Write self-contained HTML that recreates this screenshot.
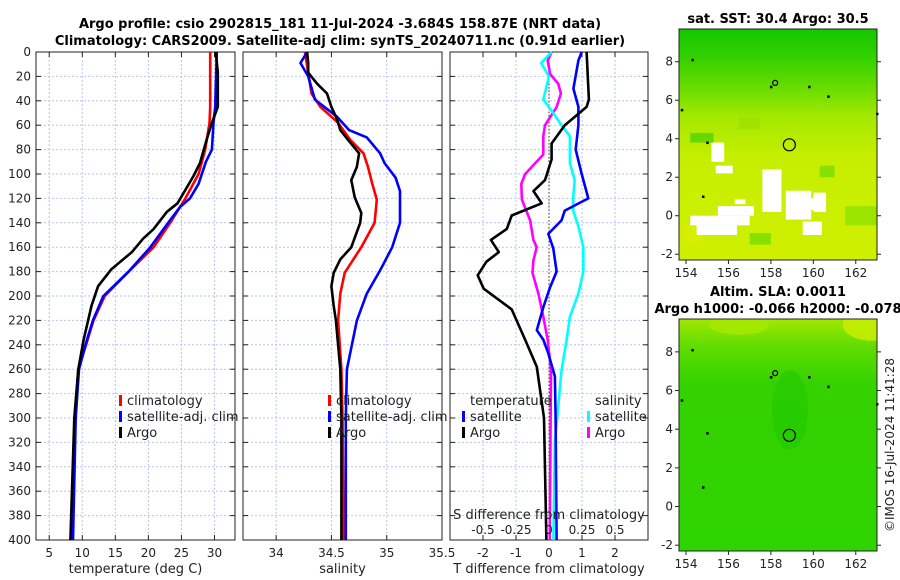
<!DOCTYPE html>
<html><head><meta charset="utf-8"><style>
html,body{margin:0;padding:0;background:#fff;}
svg{display:block;font-family:"DejaVu Sans","Liberation Sans",sans-serif;}
</style></head><body>
<svg id="fig" width="900" height="580" viewBox="0 0 900 580" xmlns="http://www.w3.org/2000/svg">
<defs>
<linearGradient id="g1" x1="0" y1="0" x2="0" y2="1">
<stop offset="0" stop-color="#12c800"/><stop offset="0.12" stop-color="#33d000"/><stop offset="0.25" stop-color="#66dc00"/><stop offset="0.38" stop-color="#a4e800"/><stop offset="0.55" stop-color="#c6ee00"/><stop offset="1" stop-color="#cff000"/>
</linearGradient>
<linearGradient id="g2" x1="0" y1="0" x2="0" y2="1">
<stop offset="0" stop-color="#a0e800"/><stop offset="0.12" stop-color="#60dc00"/><stop offset="0.28" stop-color="#34d200"/><stop offset="1" stop-color="#2ed400"/>
</linearGradient>
<clipPath id="c1"><rect x="679" y="29" width="198" height="231"/></clipPath>
<clipPath id="c2"><rect x="679" y="319" width="198" height="232"/></clipPath>
</defs>
<text x="340" y="28" text-anchor="middle" font-size="13" font-weight="bold">Argo profile: csio 2902815_181 11-Jul-2024 -3.684S 158.87E (NRT data)</text>
<text x="340" y="45" text-anchor="middle" font-size="13" font-weight="bold">Climatology: CARS2009. Satellite-adj clim: synTS_20240711.nc (0.91d earlier)</text>
<g id="panels"></g>
<g id="maps"></g>
<text transform="translate(894,445) rotate(-90)" text-anchor="middle" font-size="12" fill="#222">©IMOS 16-Jul-2024 11:41:28</text>
</svg>
<script>
// ---- data ----
const depthTicks = [0,20,40,60,80,100,120,140,160,180,200,220,240,260,280,300,320,340,360,380,400];
const tTicks = [5,10,15,20,25,30];
const sTicks = [34,34.5,35,35.5];
const dTicks = [-2,-1,0,1,2];
const dsTicks = [-0.5,-0.25,0,0.25,0.5];
const dsTickLabels = ['-0.5','-0.25','0','0.25','0.5'];

const tClimDepth = [0,45,58,80,100,108,120,127,140,160,180,200,220,236,260,300,400];
const tClim = [29.35,29.35,29.25,28.6,27.6,26.8,25.6,24.8,23.3,20.8,17.0,13.4,11.7,10.8,9.4,8.9,8.5];
const tSatDepth = [0,45,58,80,90,108,120,127,140,160,180,200,220,236,260,300,400];
const tSat = [30.35,30.1,29.85,29.6,28.7,27.6,26.3,24.8,23.0,20.3,17.0,13.2,11.6,10.7,9.5,9.0,8.6];
const tArgoDepth = [0,17,45,58,72,91,102,113,124,131,145,153,164,178,192,208,236,260,300,400];
const tArgo = [30.2,30.5,30.5,29.6,28.8,27.8,26.8,25.6,24.4,22.8,20.8,19.2,17.5,14.4,12.4,11.4,10.2,9.4,8.8,8.2];

const sArgoDepth = [0,9,17,26,34,45,55,64,72,83,94,105,119,132,140,160,170,181,192,208,220,260,300,400];
const sArgo = [34.28,34.29,34.29,34.37,34.46,34.5,34.55,34.58,34.65,34.75,34.73,34.68,34.71,34.77,34.76,34.68,34.58,34.52,34.5,34.52,34.54,34.58,34.59,34.59];
const sClimDepth = [0,17,34,45,58,72,83,94,108,121,140,160,181,198,220,260,300,400];
const sClim = [34.26,34.29,34.32,34.40,34.56,34.67,34.79,34.83,34.87,34.91,34.89,34.77,34.62,34.58,34.56,34.59,34.60,34.61];
const sSatDepth = [0,9,20,39,53,64,70,83,91,103,114,127,140,160,179,198,220,260,300,400];
const sSat = [34.28,34.22,34.29,34.35,34.55,34.66,34.82,34.94,34.98,35.08,35.12,35.12,35.12,35.05,34.94,34.82,34.73,34.64,34.63,34.63];

const dTArgoDepth = [0,39,45,60,75,88,105,114,124,134,145,154,164,172,183,194,211,236,258,300,400];
const dTArgo = [1.14,1.21,1.14,0.48,0.08,0.08,-0.12,-0.47,-0.22,-1.13,-1.28,-1.76,-1.52,-1.9,-2.16,-1.98,-1.13,-0.72,-0.37,-0.15,-0.08];
const dTSatDepth = [0,7,30,45,60,80,100,120,130,138,149,161,180,193,209,228,236,247,266,300,400];
const dTSat = [0.99,0.89,0.74,0.89,0.89,0.81,0.99,1.19,0.48,0.38,-0.02,0.13,0.23,0.03,-0.17,-0.37,-0.17,-0.02,0.18,0.2,0.23];
const dSSatDepth = [0,9,20,39,48,60,69,80,91,105,119,130,143,160,180,198,217,236,261,320,400];
const dSSat = [0.02,-0.06,0,-0.043,0.02,0.095,0.158,0.158,0.158,0.195,0.183,0.183,0.223,0.26,0.26,0.223,0.158,0.133,0.095,0.045,0.033];
const dSArgoDepth = [0,7,18,26,34,45,60,69,84,100,108,121,138,154,160,171,181,198,217,236,261,400];
const dSArgo = [0.02,-0.01,0.008,0.07,0.09,0.058,-0.03,-0.043,-0.043,-0.18,-0.21,-0.205,-0.143,-0.118,-0.093,-0.118,-0.125,-0.08,-0.043,-0.01,0.015,0.005];

const lonTicks = [154,156,158,160,162];
const latTicks = [-2,0,2,4,6,8];

// ---- helpers ----
const NS='http://www.w3.org/2000/svg';
function mk(tag, attrs, parent){const e=document.createElementNS(NS,tag);for(const k in attrs)e.setAttribute(k,attrs[k]);parent.appendChild(e);return e;}
const Y0=52,Y1=540;
function yD(d){return Y0+(d/400)*(Y1-Y0);}
const panelsG=document.getElementById('panels');

function panel(name,x0,x1,xmin,xmax,ticks,tickLabels,xlabel,showY){
  const g=mk('g',{},panelsG);
  
  
  const xs=v=>x0+(v-xmin)/(xmax-xmin)*(x1-x0);
  mk('rect',{x:x0,y:Y0,width:x1-x0,height:Y1-Y0,fill:'#fff'},g);
  depthTicks.forEach((d,i)=>{
    if(i>0&&i<depthTicks.length-1) mk('line',{x1:x0,x2:x1,y1:yD(d),y2:yD(d),stroke:'#b8c4ee','stroke-width':1,'stroke-dasharray':'2,2'},g);
    mk('line',{x1:x0,x2:x0+5,y1:yD(d),y2:yD(d),stroke:'#222'},g);
    mk('line',{x1:x1-5,x2:x1,y1:yD(d),y2:yD(d),stroke:'#222'},g);
    if(showY){const t=mk('text',{x:x0-5,y:yD(d)+4,'text-anchor':'end','font-size':12,fill:'#222'},g);t.textContent=d;
      
      }
  });
  ticks.forEach((v,i)=>{
    const x=xs(v);
    mk('line',{x1:x,x2:x,y1:Y0,y2:Y1,stroke:'#b8c4ee','stroke-width':1,'stroke-dasharray':'2,2'},g);
    mk('line',{x1:x,x2:x,y1:Y0,y2:Y0+5,stroke:'#222'},g);
    mk('line',{x1:x,x2:x,y1:Y1-5,y2:Y1,stroke:'#222'},g);
    const t=mk('text',{x:x,y:557,'text-anchor':'middle','font-size':12,fill:'#222'},g);t.textContent=tickLabels[i];
    
    
  });
  mk('rect',{x:x0,y:Y0,width:x1-x0,height:Y1-Y0,fill:'none',stroke:'#222','stroke-width':1},g);
  const t=mk('text',{x:(x0+x1)/2,y:573,'text-anchor':'middle','font-size':13,fill:'#222'},g);t.textContent=xlabel;
  
  
  return {g,xs};
}
function series(p,vals,depths,color,name,scale){
  const pts=vals.map((v,i)=>p.xs(v*(scale||1)).toFixed(1)+','+yD(depths[i]).toFixed(1)).join(' ');
  const l=mk('polyline',{points:pts,fill:'none',stroke:color,'stroke-width':2.6,'stroke-linejoin':'round'},p.g);
  
  
}
function legendEntry(p,x,y,color,label,name){
  const g=mk('g',{},p.g);
  
  
  mk('rect',{x:x,y:y-10,width:3,height:11,fill:color},g);
  const t=mk('text',{x:x+8,y:y,'font-size':13,fill:'#222'},g);t.textContent=label;
}

// Panel 1 temperature
const p1=panel('temperature-panel',36,235,3,33.1,tTicks,tTicks.map(String),'temperature (deg C)',true);
series(p1,tClim,tClimDepth,'#f00','climatology-temp-line');
series(p1,tSat,tSatDepth,'#00f','satellite-temp-line');
series(p1,tArgo,tArgoDepth,'#000','argo-temp-line');
legendEntry(p1,119,405,'#f00','climatology','legend-climatology');
legendEntry(p1,119,421,'#00f','satellite-adj. clim','legend-satellite');
legendEntry(p1,119,437,'#000','Argo','legend-argo');

// Panel 2 salinity
const p2=panel('salinity-panel',243,442,33.7,35.5,sTicks,sTicks.map(String),'salinity',false);
series(p2,sClim,sClimDepth,'#f00','climatology-salinity-line');
series(p2,sSat,sSatDepth,'#00f','satellite-salinity-line');
series(p2,sArgo,sArgoDepth,'#000','argo-salinity-line');
legendEntry(p2,328,405,'#f00','climatology','legend-climatology-sal');
legendEntry(p2,328,421,'#00f','satellite-adj. clim','legend-satellite-sal');
legendEntry(p2,328,437,'#000','Argo','legend-argo-sal');

// Panel 3 differences
const p3=panel('difference-panel',450,648,-3,3,dTicks,dTicks.map(String),'T difference from climatology',false);
mk('line',{x1:p3.xs(0),x2:p3.xs(0),y1:Y0,y2:Y1,stroke:'#553311','stroke-width':1,'stroke-dasharray':'1.5,2'},p3.g);
series(p3,dSArgo,dSArgoDepth,'#f0f','salinity-argo-diff-line',4);
series(p3,dSSat,dSSatDepth,'#0ff','salinity-satellite-diff-line',4);
series(p3,dTSat,dTSatDepth,'#00f','temperature-satellite-diff-line');
series(p3,dTArgo,dTArgoDepth,'#000','temperature-argo-diff-line');
{const t=mk('text',{x:470,y:405,'font-size':13,fill:'#222'},p3.g);t.textContent='temperature';
 
 
 const t2=mk('text',{x:595,y:405,'font-size':13,fill:'#222'},p3.g);t2.textContent='salinity';
 
 }
legendEntry(p3,462,421,'#00f','satellite','legend-t-satellite');
legendEntry(p3,462,437,'#000','Argo','legend-t-argo');
legendEntry(p3,587,421,'#0ff','satellite','legend-s-satellite');
legendEntry(p3,587,437,'#f0f','Argo','legend-s-argo');
{const t=mk('text',{x:549,y:519,'text-anchor':'middle','font-size':13,fill:'#222'},p3.g);t.textContent='S difference from climatology';
 
 
 dsTicks.forEach((v,i)=>{const s=mk('text',{x:p3.xs(v*4),y:534,'text-anchor':'middle','font-size':12,fill:'#222'},p3.g);s.textContent=dsTickLabels[i];
  
  });}

// ---- maps ----
const mapsG=document.getElementById('maps');
function map(name,x0,y0,x1,y1,latTop,latBot,fill,clip,title,extra){
  const g=mk('g',{},mapsG);
  
  
  const lx=v=>x0+(v-153.67)/(163.0-153.67)*(x1-x0);
  const ly=v=>y0+(latTop-v)/(latTop-latBot)*(y1-y0);
  const inner=mk('g',{'clip-path':clip},g);
  mk('rect',{x:x0,y:y0,width:x1-x0,height:y1-y0,fill:fill},inner);
  if(extra) extra(inner,lx,ly);
  mk('circle',{cx:lx(158.87),cy:ly(3.684),r:6,fill:'none',stroke:'#000','stroke-width':1.2},g);
  mk('circle',{cx:lx(158.2),cy:ly(6.9),r:2.5,fill:'none',stroke:'#000','stroke-width':1.2},g);
  [[154.3,8.1],[163,5.3],[158,6.7],[159.8,6.7],[160.7,6.2],[155,3.8],[154.8,1.0],[153.8,5.5]].forEach(p=>mk('rect',{x:lx(p[0])-1,y:ly(p[1])-1,width:2.5,height:2.5,fill:'#000'},g));
  mk('rect',{x:x0,y:y0,width:x1-x0,height:y1-y0,fill:'none',stroke:'#222'},g);
  lonTicks.forEach(v=>{const x=lx(v);mk('line',{x1:x,x2:x,y1:y1,y2:y1+4,stroke:'#222'},g);
    const t=mk('text',{x:x,y:y1+17,'text-anchor':'middle','font-size':12,fill:'#222'},g);t.textContent=v;
    
    });
  latTicks.forEach(v=>{const y=ly(v);mk('line',{x1:x0-4,x2:x0,y1:y,y2:y,stroke:'#222'},g);mk('line',{x1:x1,x2:x1+4,y1:y,y2:y,stroke:'#222'},g);
    const t=mk('text',{x:x0-6,y:y+4,'text-anchor':'end','font-size':12,fill:'#222'},g);t.textContent=v;
    
    });
  title.forEach((s,i)=>{const t=mk('text',{x:778,y:y0-(title.length-1-i)*17-6,'text-anchor':'middle','font-size':13,'font-weight':'bold'},g);t.textContent=s;
    
    });
}
map('sst-map',679,29,877,260,9.7,-2.3,'url(#g1)','url(#c1)',['sat. SST: 30.4 Argo: 30.5'],(g,lx,ly)=>{
  [[156.5,4.5,1.0,0.6,'#9ee400'],[160.3,2.0,0.7,0.6,'#88e000'],[161.5,-0.5,1.5,1.0,'#9ae400'],[153.8,-1.5,1.0,1.0,'#d8ee00'],[157.0,-1.5,1.0,0.6,'#88e000']].forEach(r=>{
    mk('rect',{x:lx(r[0]),y:ly(r[1]+r[3]),width:lx(r[0]+r[2])-lx(r[0]),height:ly(r[1])-ly(r[1]+r[3]),fill:r[4]},g);});
  [[155.2,2.8,0.6,1.0],[155.4,2.2,0.8,0.4],[156.3,0.6,0.5,0.25],[155.5,0.0,1.7,0.5],[154.2,-0.5,2.8,0.5],[154.5,-1.0,1.9,0.5],[157.6,0.2,0.9,2.2],[158.7,-0.2,1.2,1.5],[159.5,-1.0,0.9,0.7],[160.0,0.2,0.6,1.0],[159.4,0.3,0.7,0.6]].forEach(r=>{
    mk('rect',{x:lx(r[0]),y:ly(r[1]+r[3]),width:lx(r[0]+r[2])-lx(r[0]),height:ly(r[1])-ly(r[1]+r[3]),fill:'#fff'},g);});
  mk('rect',{x:lx(154.2),y:ly(4.3),width:lx(155.3)-lx(154.2),height:ly(3.8)-ly(4.3),fill:'#66d800'},g);
});
map('sla-map',679,319,877,551,9.7,-2.3,'url(#g2)','url(#c2)',['Altim. SLA: 0.0011','Argo h1000: -0.066 h2000: -0.078'],(g,lx,ly)=>{
  mk('ellipse',{cx:lx(162.8),cy:ly(9.4),rx:30,ry:16,fill:'#c8ee00',opacity:0.85},g);
  mk('ellipse',{cx:lx(156.5),cy:ly(9.4),rx:30,ry:10,fill:'#a8e800',opacity:0.8},g);
  mk('ellipse',{cx:lx(158.9),cy:ly(5.0),rx:18,ry:40,fill:'#1cc600',opacity:0.5},g);
});
</script>
</body></html>
